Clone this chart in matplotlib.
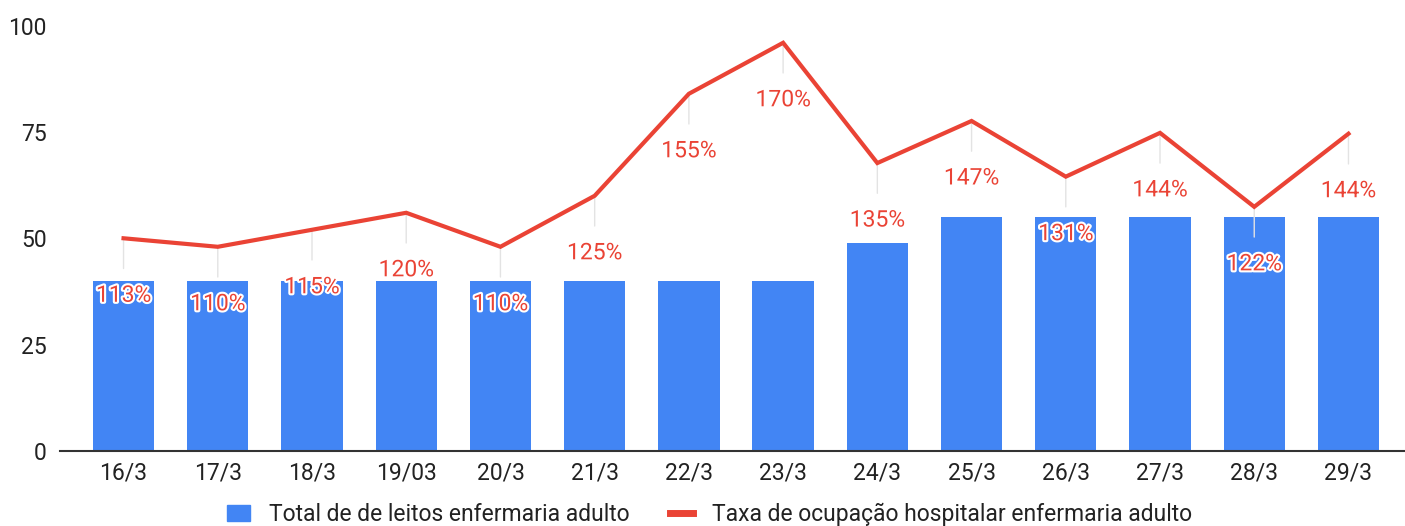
import matplotlib.pyplot as plt
import matplotlib
import matplotlib.patheffects as pe
from matplotlib.lines import Line2D
from matplotlib.patches import Patch

matplotlib.rc('font', family='Roboto', size=16.5)

dias = ['16/3', '17/3', '18/3', '19/03', '20/3', '21/3', '22/3', '23/3',
        '24/3', '25/3', '26/3', '27/3', '28/3', '29/3']
leitos = [40, 40, 40, 40, 40, 40, 40, 40, 49, 55, 55, 55, 55, 55]
# line (it sits on a hidden second scale)
taxa_pos = [50, 48, 52, 56, 48, 60, 84, 96, 67.7, 77.6, 64.5, 74.8, 57.4, 74.6]
taxa_txt = ['113%', '110%', '115%', '120%', '110%', '125%', '155%', '170%',
            '135%', '147%', '131%', '144%', '122%', '144%']

azul = '#4285F4'
verm = '#EA4335'

fig = plt.figure(figsize=(14.05, 5.26), dpi=100)
ax = fig.add_axes([0.043, 0.143, 0.957, 0.808])

x = list(range(len(dias)))
ax.bar(x, leitos, width=0.65, color=azul, zorder=2)
ax.plot(x, taxa_pos, color=verm, lw=3, zorder=5, solid_joinstyle='miter')

for xi, yi, t in zip(x, taxa_pos, taxa_txt):
    ax.annotate(t, (xi, yi), xytext=(0, -57), textcoords='offset pixels',
                ha='center', va='center', color=verm, fontsize=16.5, zorder=4,
                path_effects=[pe.withStroke(linewidth=3, foreground='white')],
                arrowprops=dict(arrowstyle='-', color='#e3e3e3', lw=1,
                                shrinkA=9, shrinkB=0))

ax.set_xlim(-0.67, 13.6)
ax.set_ylim(0, 100)
ax.set_yticks([0, 25, 50, 75, 100])
ax.set_xticks(x)
ax.set_xticklabels(dias)
ax.tick_params(length=0, colors='#222222', labelsize=16.5)
ax.tick_params(axis='x', pad=8)
ax.tick_params(axis='y', pad=10)
for s in ['top', 'right', 'left']:
    ax.spines[s].set_visible(False)
ax.spines['bottom'].set_color('#333333')
ax.spines['bottom'].set_linewidth(1.5)
ax.spines['bottom'].set_zorder(6)

handles = [Patch(color=azul), Line2D([0], [0], color=verm, lw=5)]
labels = ['Total de de leitos enfermaria adulto',
          'Taxa de ocupação hospitalar enfermaria adulto']
fig.legend(handles, labels, loc='center', bbox_to_anchor=(0.505, 0.022),
           ncol=2, frameon=False, fontsize=16.5, handlelength=1.0,
           handletextpad=0.8, columnspacing=1.8, labelcolor='#222222')

fig.savefig('out.png', dpi=100)
